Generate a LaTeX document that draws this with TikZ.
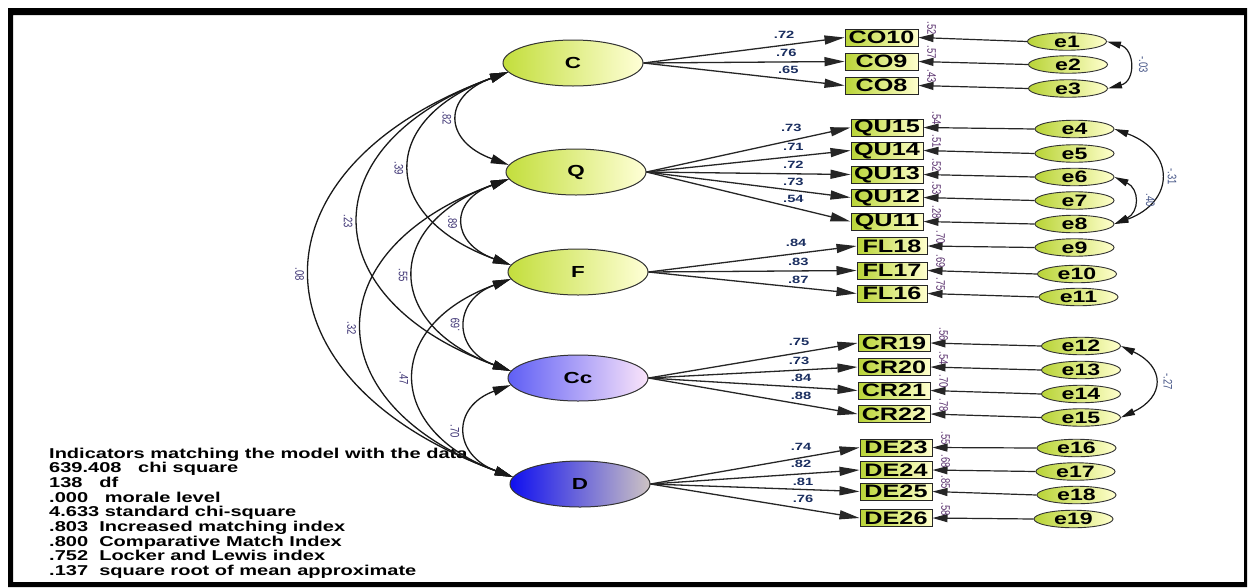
\documentclass[tikz,border=0pt]{standalone}
\usepackage{fontspec}
\usetikzlibrary{arrows.meta,shapes.geometric}
\newfontfamily\amos{Liberation Sans}[FakeStretch=1.4]
\newfontfamily\amosr{Liberation Sans}
\definecolor{ygL}{RGB}{185,212,55}
\definecolor{ygR}{RGB}{255,255,205}
\definecolor{ltL}{RGB}{195,222,60}
\definecolor{ltR}{RGB}{255,255,215}
\definecolor{ccL}{RGB}{95,95,245}
\definecolor{ccR}{RGB}{250,228,250}
\definecolor{dL}{RGB}{15,15,240}
\definecolor{dR}{RGB}{205,195,195}
\definecolor{lodc}{RGB}{25,45,95}
\definecolor{resc}{RGB}{90,50,110}
\definecolor{corc}{RGB}{60,50,115}
\definecolor{ecovc}{RGB}{70,85,135}
\begin{document}
\begin{tikzpicture}[x=1pt,y=1pt,
  latent/.style={ellipse, draw=black!80, line width=1pt, minimum width=140pt, minimum height=46pt, inner sep=0pt, font=\amos\bfseries\fontsize{16}{16}\selectfont},
  obs/.style={rectangle, draw=black!85, line width=1pt, minimum height=17pt, inner sep=0pt, left color=ygL, right color=ygR, font=\amos\bfseries\fontsize{18}{18}\selectfont},
  err/.style={ellipse, draw=black!80, line width=0.9pt, minimum width=79pt, minimum height=17.5pt, inner sep=0pt, left color=ygL, right color=ygR, font=\amos\bfseries\fontsize{16.5}{16.5}\selectfont},
  load/.style={line width=1.3pt, draw=black!85, -{Triangle[length=20pt,width=9pt]}},
  errarr/.style={line width=1.2pt, draw=black!85, -{Triangle[length=15pt,width=8pt]}},
  cov/.style={line width=1.3pt, draw=black!90, {Triangle[length=18pt,width=9pt]}-{Triangle[length=18pt,width=9pt]}},
  ecov/.style={line width=1.2pt, draw=black!90, {Triangle[length=14pt,width=7pt]}-{Triangle[length=14pt,width=7pt]}},
  lod/.style={font=\amos\bfseries\fontsize{10.5}{10.5}\selectfont, text=lodc, inner sep=0pt},
  res/.style={font=\amosr\fontsize{9.5}{9.5}\selectfont, text=resc, inner sep=0pt},
  corr/.style={font=\amosr\fontsize{9.5}{9.5}\selectfont, text=corc, inner sep=0pt},
  ecorr/.style={font=\amosr\fontsize{9.5}{9.5}\selectfont, text=ecovc, inner sep=0pt},
  legend/.style={font=\amos\bfseries\fontsize{14.3}{14.7}\selectfont, align=left, inner sep=0pt}
]
\useasboundingbox (0,0) rectangle (1248,-587);
\fill[white] (0,0) rectangle (1248,-587);
\fill[black, even odd rule] (8,-8) rectangle (1247,-587) (13,-15) rectangle (1244,-582);

% legend
\node[legend, anchor=north west] (leg) at (49,-447.5) {Indicators matching the model with the data\\
639.408\ \ \ chi square\\
138\ \ \ df\\
.000\ \ \ morale level\\
4.633 standard chi-square\\
.803\ \ Increased matching index\\
.800\ \ Comparative Match Index\\
.752\ \ Locker and Lewis index\\
.137\ \ square root of mean approximate};

% latent variables
\node[latent, left color=ltL, right color=ltR] (C) at (573,-63) {C};
\node[latent, left color=ltL, right color=ltR] (Q) at (576,-172) {Q};
\node[latent, left color=ltL, right color=ltR] (F) at (578,-272) {F};
\node[latent, left color=ccL, right color=ccR] (Cc) at (578,-378) {Cc};
\node[latent, left color=dL, right color=dR] (D) at (580,-484) {D};

% observed variables
\foreach \n/\t/\x/\y/\w in {co10/CO10/881.5/37.5/73, co9/CO9/881.5/61.5/73, co8/CO8/881.5/85.5/73,
  qu15/QU15/887/127.5/72, qu14/QU14/887/150.5/72, qu13/QU13/887/174.5/72, qu12/QU12/887/197.5/72, qu11/QU11/887/221.5/72,
  fl18/FL18/892/246/70, fl17/FL17/892/270.5/70, fl16/FL16/892/293.5/70,
  cr19/CR19/894/343/72, cr20/CR20/894/367/72, cr21/CR21/894/390.5/72, cr22/CR22/894/414/72,
  de23/DE23/896/447.5/72, de24/DE24/896/470/72, de25/DE25/896/491.5/72, de26/DE26/896/518/72}
  \node[obs, minimum width=\w pt] (\n) at (\x,-\y) {\t};

% error terms
\foreach \n/\x/\y in {e1/1067/41.5, e2/1068/64.5, e3/1068/88.5, e4/1074.5/129, e5/1074.5/153.5, e6/1074.5/177,
  e7/1074.5/200.5, e8/1074.5/224, e9/1074.5/247.5, e10/1077/274, e11/1078.5/297, e12/1081/346, e13/1081/370,
  e14/1081/394, e15/1081/417.5, e16/1076.5/448, e17/1075.5/471.5, e18/1076.5/495, e19/1073.5/519}
  \node[err] (\n) at (\x,-\y) {\n};

% loadings
\foreach \s/\t/\l/\d/\p in {C/co10/.72/10/.70, C/co9/.76/9.5/.71, C/co8/.65/9/.72,
  Q/qu15/.73/13/.71, Q/qu14/.71/10/.72, Q/qu13/.72/8.5/.72, Q/qu12/.73/8.5/.72, Q/qu11/.54/8.5/.72,
  F/fl18/.84/10.5/.71, F/fl17/.83/9/.72, F/fl16/.87/8/.72,
  Cc/cr19/.75/10.5/.72, Cc/cr20/.73/9.5/.72, Cc/cr21/.84/9/.73, Cc/cr22/.88/8.5/.73,
  D/de23/.74/11/.72, D/de24/.82/10/.72, D/de25/.81/8/.73, D/de26/.76/9.5/.73}
  \draw[load] (\s.east) -- node[pos=\p, yshift=\d pt, lod] {\l} (\t.west);

% error paths and residual values
\foreach \e/\t/\r in {e1/co10/.52, e2/co9/.57, e3/co8/.43, e4/qu15/.54, e5/qu14/.51, e6/qu13/.52, e7/qu12/.53, e8/qu11/.28,
  e9/fl18/.70, e10/fl17/.69, e11/fl16/.75, e12/cr19/.56, e13/cr20/.54, e14/cr21/.70, e15/cr22/.78,
  e16/de23/.55, e17/de24/.68, e18/de25/.85, e19/de26/.58}
  {\draw[errarr] (\e.west) -- (\t.east);
   \node[res] (r\e) at ([shift={(13pt,9pt)}]\t.east) {\rotatebox{-90}{\scalebox{1}[1.3]{\r}}};}

% correlations among latent variables
\draw[cov] (C.188) to[out=200, in=160, looseness=1.93] node[pos=.5, left=7pt, corr] {\rotatebox{-90}{\scalebox{1}[1.3]{.82}}} (Q.174);
\draw[cov] (C.188) to[out=200, in=160, looseness=1.85] node[pos=.5, left=7pt, corr] {\rotatebox{-90}{\scalebox{1}[1.3]{.39}}} (F.174);
\draw[cov] (C.188) to[out=200, in=160, looseness=1.81] node[pos=.5, left=7pt, corr] {\rotatebox{-90}{\scalebox{1}[1.3]{.23}}} (Cc.174);
\draw[cov] (C.188) to[out=200, in=160, looseness=1.78] node[pos=.5, left=7pt, corr] {\rotatebox{-90}{\scalebox{1}[1.3]{.08}}} (D.174);
\draw[cov] (Q.186) to[out=200, in=160, looseness=1.90] node[pos=.5, left=7pt, corr] {\rotatebox{-90}{\scalebox{1}[1.3]{.89}}} (F.174);
\draw[cov] (Q.186) to[out=200, in=160, looseness=1.79] node[pos=.5, left=7pt, corr] {\rotatebox{-90}{\scalebox{1}[1.3]{.55}}} (Cc.174);
\draw[cov] (Q.186) to[out=200, in=160, looseness=1.79] node[pos=.5, left=7pt, corr] {\rotatebox{-90}{\scalebox{1}[1.3]{.32}}} (D.174);
\draw[cov] (F.186) to[out=200, in=160, looseness=1.73] node[pos=.5, left=7pt, corr] {\rotatebox{90}{\scalebox{1}[1.3]{.69}}} (Cc.174);
\draw[cov] (F.186) to[out=200, in=160, looseness=1.76] node[pos=.5, left=7pt, corr] {\rotatebox{-90}{\scalebox{1}[1.3]{.47}}} (D.174);
\draw[cov] (Cc.186) to[out=200, in=160, looseness=1.77] node[pos=.5, left=7pt, corr] {\rotatebox{-90}{\scalebox{1}[1.3]{.70}}} (D.174);

% correlations among error terms
\draw[ecov] (e1.east) to[out=-15, in=15, looseness=1.58] node[pos=.5, right=10pt, ecorr] {\rotatebox{-90}{\scalebox{1}[1.3]{-.03}}} (e3.east);
\draw[ecov] (e4.east) to[out=-20, in=20, looseness=1.75] node[pos=.5, right=7pt, ecorr] {\rotatebox{-90}{\scalebox{1}[1.3]{-.31}}} (e8.east);
\draw[ecov] (e6.east) to[out=-25, in=25, looseness=1.52] node[pos=.5, right=12pt, ecorr] {\rotatebox{-90}{\scalebox{1}[1.3]{.40}}} (e8.east);
\draw[ecov] (e12.east) to[out=-25, in=25, looseness=1.75] node[pos=.5, right=9pt, ecorr] {\rotatebox{-90}{\scalebox{1}[1.3]{-.27}}} (e15.east);
\end{tikzpicture}
\end{document}
